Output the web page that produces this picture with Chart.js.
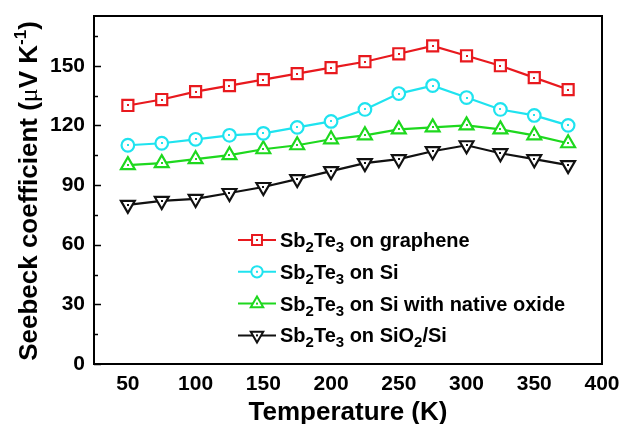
<!DOCTYPE html>
<html>
<head>
<meta charset="utf-8">
<script src="https://cdn.jsdelivr.net/npm/chart.js@4"></script>
<style>
  body { margin: 0; background: #fff; }
  #wrap { width: 625px; height: 424px; }
</style>
</head>
<body>
<div id="wrap"><canvas id="myChart" width="625" height="424"></canvas></div>
<script>
// data
const temps = [50, 75, 100, 125, 150, 175, 200, 225, 250, 275, 300, 325, 350, 375];
const graphene = [130, 133, 137, 140, 143, 146, 149, 152, 156, 160, 155, 150, 144, 138];
const onSi = [110, 111, 113, 115, 116, 119, 122, 128, 136, 140, 134, 128, 125, 120];
const nativeOxide = [100, 101, 103, 105, 108, 110, 113, 115, 118, 119, 120, 118, 115, 111];
const onSiO2 = [80, 82, 83, 86, 89, 93, 97, 101, 103, 107, 110, 106, 103, 100];

const xTicks = [50, 100, 150, 200, 250, 300, 350, 400];
const yTicks = [0, 15, 30, 45, 60, 75, 90, 105, 120, 135, 150, 165];

// legend labels as [text, isSub] pieces
const legendLabels = [
  [['Sb', 0], ['2', 1], ['Te', 0], ['3', 1], [' on graphene', 0]],
  [['Sb', 0], ['2', 1], ['Te', 0], ['3', 1], [' on Si', 0]],
  [['Sb', 0], ['2', 1], ['Te', 0], ['3', 1], [' on Si with native oxide', 0]],
  [['Sb', 0], ['2', 1], ['Te', 0], ['3', 1], [' on SiO', 0], ['2', 1], ['/Si', 0]]
];

const FONT = 'Liberation Sans, Arial, sans-serif';

function series(data, color, style, radius, rotation) {
  return {
    data: data.map((v, i) => ({ x: temps[i], y: v })),
    borderColor: color,
    backgroundColor: '#fff',
    borderWidth: 2.2,
    pointStyle: style,
    pointRadius: radius,
    pointRotation: rotation || 0,
    pointBorderWidth: 2.2,
    pointBackgroundColor: '#fff',
    pointBorderColor: color,
    tension: 0
  };
}

// frame, inward ticks, centre dots, y title and legend
const decor = {
  id: 'decor',
  afterDatasetsDraw(chart) {
    const ctx = chart.ctx;
    const area = chart.chartArea;
    const ys = chart.scales.y;
    ctx.save();
    // centre dots on markers
    chart.data.datasets.forEach((ds, i) => {
      chart.getDatasetMeta(i).data.forEach(pt => {
        ctx.fillStyle = ds.borderColor;
        ctx.fillRect(Math.round(pt.x) - 1, Math.round(pt.y) - 1, 2, 2);
      });
    });
    // box
    ctx.strokeStyle = '#000';
    ctx.lineWidth = 2;
    ctx.strokeRect(area.left, area.top, area.right - area.left, area.bottom - area.top);
    // inward ticks on y
    yTicks.forEach(v => {
      const py = Math.round(ys.getPixelForValue(v)) + 0.5;
      const len = v % 30 === 0 ? 7 : 4;
      ctx.lineWidth = 1.5;
      ctx.beginPath();
      ctx.moveTo(area.left, py);
      ctx.lineTo(area.left + len, py);
      ctx.stroke();
    });
    // legend
    const lx = 238, ly0 = 240, step = 31.8;
    chart.data.datasets.forEach((ds, i) => {
      const y = ly0 + i * step;
      ctx.strokeStyle = ds.borderColor;
      ctx.lineWidth = 2;
      ctx.beginPath();
      ctx.moveTo(lx, y);
      ctx.lineTo(lx + 38, y);
      ctx.stroke();
      ctx.fillStyle = '#fff';
      Chart.helpers.drawPoint(ctx, {
        pointStyle: ds.pointStyle,
        rotation: ds.pointRotation,
        radius: ds.pointRadius * 0.9,
        borderWidth: 2
      }, lx + 19, y);
      ctx.fillStyle = ds.borderColor;
      ctx.fillRect(lx + 18, y - 1, 2, 2);
      // text with subscripts
      let tx = lx + 42;
      ctx.fillStyle = '#000';
      ctx.textBaseline = 'alphabetic';
      ctx.textAlign = 'left';
      legendLabels[i].forEach(([t, sub]) => {
        ctx.font = 'bold ' + (sub ? 15 : 20) + 'px ' + FONT;
        ctx.fillText(t, tx, sub ? y + 12 : y + 7);
        tx += ctx.measureText(t).width;
      });
    });
    // y axis title with superscript
    ctx.translate(30, 191);
    ctx.rotate(-Math.PI / 2);
    const parts = [['Seebeck coefficient (', 26, 0], ['\u03bc', 26, 0], ['V K', 26, 0], ['-1', 17, -9], [')', 26, 0]];
    const fontOf = (t, s) => (t === '\u03bc' ? s + 'px Liberation Serif, serif' : 'bold ' + s + 'px ' + FONT);
    let w = 0;
    parts.forEach(([t, s]) => { ctx.font = fontOf(t, s); w += ctx.measureText(t).width; });
    let x = -w / 2;
    ctx.fillStyle = '#000';
    ctx.textBaseline = 'middle';
    parts.forEach(([t, s, dy]) => {
      ctx.font = fontOf(t, s);
      ctx.fillText(t, x, dy);
      x += ctx.measureText(t).width;
    });
    ctx.restore();
  }
};

const ctx = document.getElementById('myChart');

const myChart = new Chart(ctx, {
  type: 'line',
  data: {
    datasets: [
      series(graphene, '#e8191e', 'rect', 7.8),
      series(onSi, '#1fe3ef', 'circle', 6.3),
      series(nativeOxide, '#1ed81e', 'triangle', 8),
      series(onSiO2, '#111111', 'triangle', 8, 180)
    ]
  },
  options: {
    responsive: false,
    animation: false,
    layout: { padding: { top: 16, right: 23, left: 0, bottom: 0 } },
    plugins: { legend: { display: false }, tooltip: { enabled: false } },
    scales: {
      x: {
        type: 'linear',
        min: 25,
        max: 400,
        afterBuildTicks: s => { s.ticks = xTicks.map(v => ({ value: v })); },
        afterFit: s => { s.height = 60; s.paddingLeft = 0; s.paddingRight = 0; },
        grid: { display: false, drawTicks: false },
        border: { display: false },
        ticks: { padding: 8, maxRotation: 0, color: '#000', font: { family: FONT, size: 21, weight: 'bold' } },
        title: {
          display: true,
          text: 'Temperature (K)',
          color: '#000',
          padding: { top: 4, bottom: -2 },
          font: { family: FONT, size: 26, weight: 'bold', lineHeight: 1 }
        }
      },
      y: {
        min: 0,
        max: 175,
        afterBuildTicks: s => { s.ticks = yTicks.map(v => ({ value: v })); },
        afterFit: s => { s.width = 94; s.paddingTop = 0; s.paddingBottom = 0; },
        grid: { display: false, drawTicks: false },
        border: { display: false },
        ticks: {
          padding: 9,
          color: '#000',
          font: { family: FONT, size: 21, weight: 'bold' },
          callback: v => (v % 30 === 0 ? v : '')
        }
      }
    }
  },
  plugins: [decor]
});
</script>
</body>
</html>
